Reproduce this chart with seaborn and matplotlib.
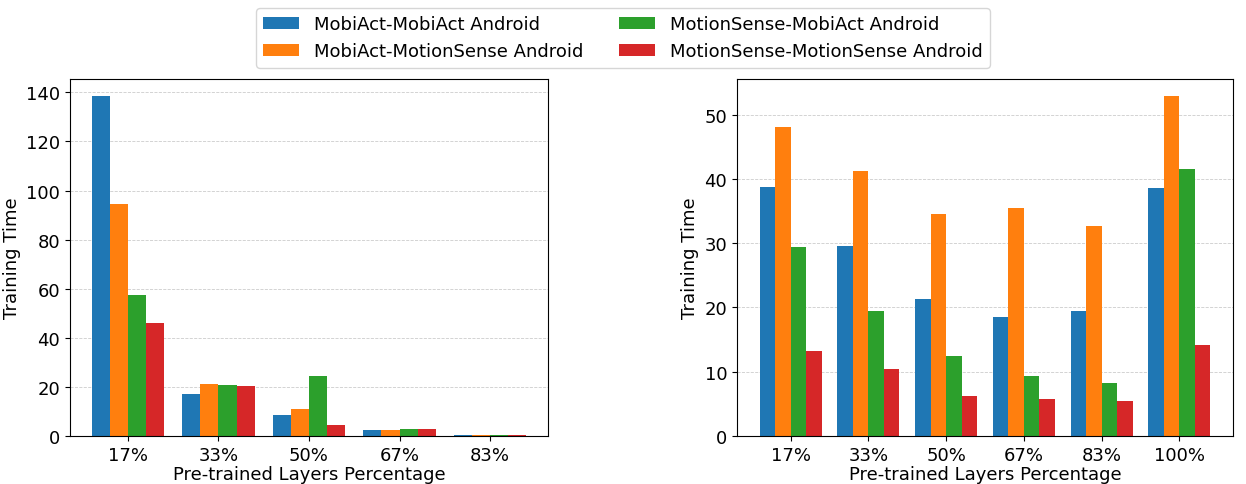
import pandas as pd
import matplotlib
matplotlib.use('Agg')
import matplotlib.pyplot as plt
import seaborn as sns

# Data
series = ['MobiAct-MobiAct Android', 'MobiAct-MotionSense Android',
          'MotionSense-MobiAct Android', 'MotionSense-MotionSense Android']

left_pct = ['17%', '33%', '50%', '67%', '83%']
left_ma_ma = [138.5, 17.2, 8.6, 2.5, 0.5]
left_ma_ms = [94.5, 21.3, 11.0, 2.5, 0.5]
left_ms_ma = [57.5, 20.9, 24.5, 2.9, 0.5]
left_ms_ms = [46.0, 20.5, 4.5, 2.9, 0.5]

right_pct = ['17%', '33%', '50%', '67%', '83%', '100%']
right_ma_ma = [38.7, 29.6, 21.3, 18.5, 19.4, 38.6]
right_ma_ms = [48.1, 41.2, 34.6, 35.5, 32.7, 52.9]
right_ms_ma = [29.4, 19.4, 12.5, 9.4, 8.3, 41.5]
right_ms_ms = [13.3, 10.4, 6.3, 5.7, 5.5, 14.1]


def to_long(pcts, cols):
    rows = []
    for name, vals in zip(series, cols):
        for p, v in zip(pcts, vals):
            rows.append({'Percentage': p, 'Model': name, 'Time': v})
    return pd.DataFrame(rows)


df_left = to_long(left_pct, [left_ma_ma, left_ma_ms, left_ms_ma, left_ms_ms])
df_right = to_long(right_pct, [right_ma_ma, right_ma_ms, right_ms_ma, right_ms_ms])

plt.rcParams['font.family'] = ['DejaVu Sans']
plt.rcParams['font.size'] = 13

palette = ['#1f77b4', '#ff7f0e', '#2ca02c', '#d62728']

fig = plt.figure(figsize=(12.46, 4.85), dpi=100)
ax1 = fig.add_axes([70 / 1246, 48 / 485, 478 / 1246, 357 / 485])
ax2 = fig.add_axes([737 / 1246, 48 / 485, 496 / 1246, 357 / 485])
axes = [ax1, ax2]

for ax, df in zip(axes, [df_left, df_right]):
    sns.barplot(data=df, x='Percentage', y='Time', hue='Model', palette=palette,
                saturation=1, width=0.8, ax=ax, legend=True)
    ax.set_axisbelow(True)
    ax.yaxis.grid(True, linestyle='--', linewidth=0.6, color='#cccccc')
    ax.set_xlabel('Pre-trained Layers Percentage', fontsize=13, labelpad=1)
    ax.set_ylabel('Training Time', fontsize=13, labelpad=4)
    ax.tick_params(labelsize=13)
    ax.margins(x=0.05)

handles, labels = ax1.get_legend_handles_labels()
for ax in axes:
    ax.get_legend().remove()

fig.legend(handles, labels, loc='upper center', ncol=2, fontsize=13,
           bbox_to_anchor=(0.5, 1.0), frameon=True)

fig.savefig('out.png', dpi=100)
